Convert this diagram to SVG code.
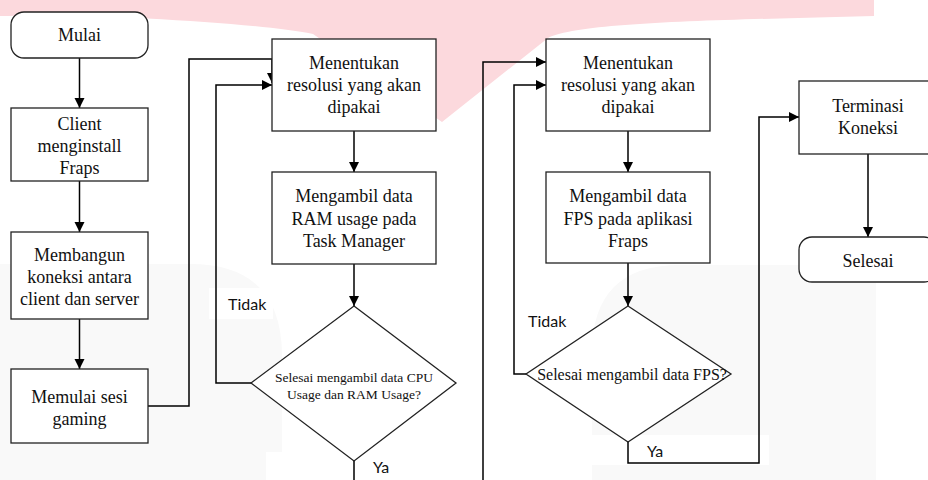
<svg xmlns="http://www.w3.org/2000/svg" width="928" height="480" viewBox="0 0 928 480">
<defs>
<style>
.box{fill:#fff;stroke:#222;stroke-width:1.3}
.t{font-family:"Liberation Serif","Times New Roman",serif;font-size:18px;fill:#111;text-anchor:middle}
.td{font-family:"Liberation Serif","Times New Roman",serif;fill:#111;text-anchor:middle}
.lbl{font-family:Lato,"Open Sans",sans-serif;font-size:16px;fill:#111}
.c{fill:none;stroke:#000;stroke-width:1.5}
.arr{marker-end:url(#ah)}
</style>
<marker id="ah" markerUnits="userSpaceOnUse" markerWidth="11" markerHeight="11" refX="10" refY="5" orient="auto">
<path d="M0,0 L10,5 L0,10 Z" fill="#000"/>
</marker>
</defs>
<rect width="928" height="480" fill="#fff"/>
<g id="watermark">
<path d="M0,0 H874 V16 C720,20 580,22 548,38 L442,122 L313,34 C250,22 100,14 0,16 Z" fill="#fcd9dd"/>
<path d="M0,264 H190 Q282,264 282,356 V480 H0 Z" fill="#f9f9f9"/>
<path d="M876,265 H680 Q592,265 592,353 V480 H876 Z" fill="#f9f9f9"/>
<rect x="209" y="288" width="64" height="31" fill="#fff"/>
<rect x="266" y="452" width="217" height="28" fill="#fff"/>
<rect x="592" y="435" width="177" height="30" fill="#fff"/>
</g>
<g id="connectors">
<path class="c arr" d="M79.5,58 V108"/>
<path class="c arr" d="M79.5,181 V232"/>
<path class="c arr" d="M79.5,319 V369"/>
<path class="c arr" d="M148,406 H189 V59 H272 V83"/>
<path class="c arr" d="M251,383 H216 V85 H272"/>
<path class="c arr" d="M354,131 V172"/>
<path class="c arr" d="M354,264 V306"/>
<path class="c arr" d="M354,461 V495 H483 V62 H546"/>
<path class="c arr" d="M526,374 H514 V85 H546"/>
<path class="c arr" d="M628,131 V172"/>
<path class="c arr" d="M628,263 V306"/>
<path class="c arr" d="M628,442 V463 H759 V117 H799"/>
<path class="c arr" d="M868,154 V237"/>
</g>
<g id="mulai">
<rect class="box" x="11" y="12" width="137" height="46" rx="13"/>
<text class="t" x="79.5" y="41">Mulai</text>
</g>
<g id="client">
<rect class="box" x="11" y="108" width="137" height="73"/>
<text class="t" x="79.5" y="129.5">Client</text>
<text class="t" x="79.5" y="151.5">menginstall</text>
<text class="t" x="79.5" y="173.5">Fraps</text>
</g>
<g id="membangun">
<rect class="box" x="11" y="232" width="137" height="87"/>
<text class="t" x="79.5" y="261">Membangun</text>
<text class="t" x="79.5" y="283">koneksi antara</text>
<text class="t" x="79.5" y="305">client dan server</text>
</g>
<g id="memulai">
<rect class="box" x="11" y="369" width="137" height="74"/>
<text class="t" x="79.5" y="402.5">Memulai sesi</text>
<text class="t" x="79.5" y="424.5">gaming</text>
</g>
<g id="menentukan1">
<rect class="box" x="272" y="39" width="164" height="92"/>
<text class="t" x="354" y="69">Menentukan</text>
<text class="t" x="354" y="91">resolusi yang akan</text>
<text class="t" x="354" y="113">dipakai</text>
</g>
<g id="mengambil1">
<rect class="box" x="272" y="172" width="164" height="92"/>
<text class="t" x="354" y="202">Mengambil data</text>
<text class="t" x="354" y="224.5">RAM usage pada</text>
<text class="t" x="354" y="247">Task Manager</text>
</g>
<g id="decision1">
<polygon class="box" points="354,306 456,383 354,461 251,383"/>
<text class="td" x="354" y="381.5" font-size="13.5">Selesai mengambil data CPU</text>
<text class="td" x="354" y="399" font-size="13.5">Usage dan RAM Usage?</text>
<text class="lbl" x="228" y="310">Tidak</text>
<text class="lbl" x="373" y="473">Ya</text>
</g>
<g id="menentukan2">
<rect class="box" x="546" y="39" width="164" height="92"/>
<text class="t" x="628" y="69">Menentukan</text>
<text class="t" x="628" y="91">resolusi yang akan</text>
<text class="t" x="628" y="113">dipakai</text>
</g>
<g id="mengambil2">
<rect class="box" x="546" y="172" width="164" height="91"/>
<text class="t" x="628" y="202">Mengambil data</text>
<text class="t" x="628" y="224.5">FPS pada aplikasi</text>
<text class="t" x="628" y="247">Fraps</text>
</g>
<g id="decision2">
<polygon class="box" points="628,306 731,374 628,442 526,374"/>
<text class="td" x="632" y="380" font-size="16">Selesai mengambil data FPS?</text>
<text class="lbl" x="528" y="327">Tidak</text>
<text class="lbl" x="647" y="457">Ya</text>
</g>
<g id="terminasi">
<rect class="box" x="799" y="81" width="138" height="73"/>
<text class="t" x="868" y="112">Terminasi</text>
<text class="t" x="868" y="134">Koneksi</text>
</g>
<g id="selesai">
<rect class="box" x="799" y="237" width="138" height="45" rx="13"/>
<text class="t" x="868" y="267">Selesai</text>
</g>
</svg>
